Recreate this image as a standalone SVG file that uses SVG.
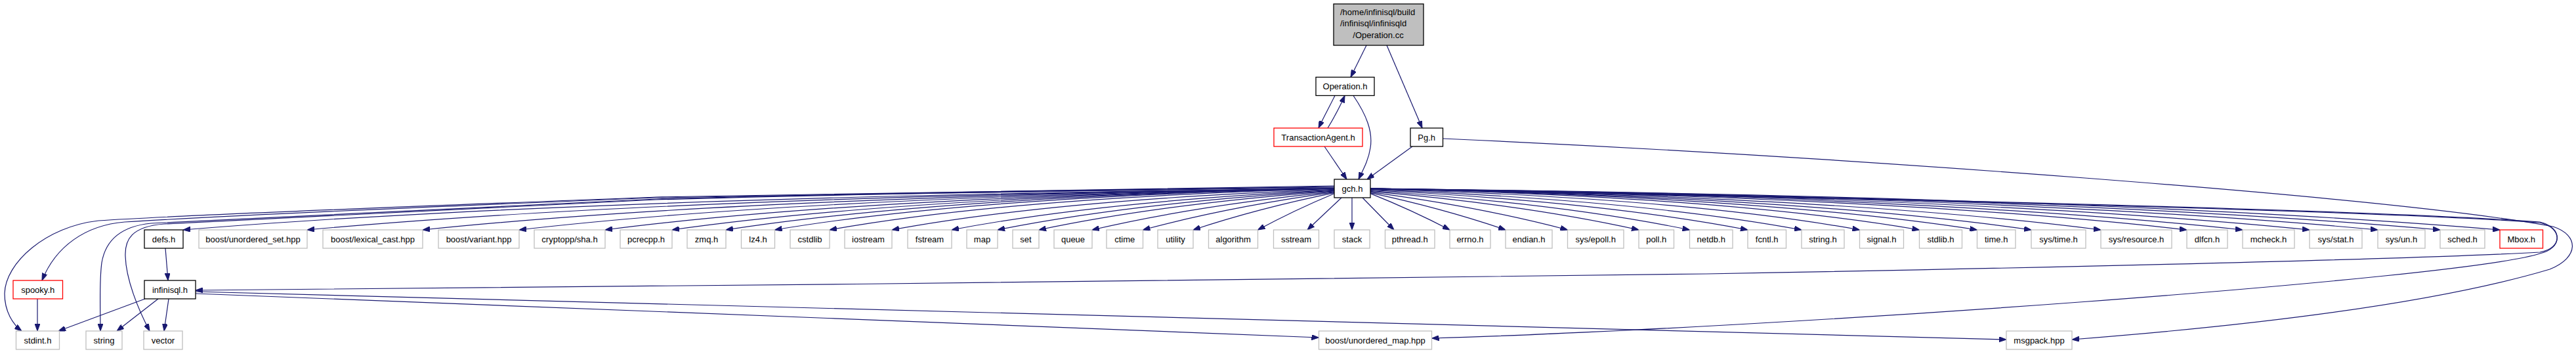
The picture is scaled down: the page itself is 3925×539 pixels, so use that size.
<svg xmlns="http://www.w3.org/2000/svg" width="3925" height="539" viewBox="0 0 3925 539">
<defs>
<style>
.node rect{fill:#ffffff;stroke:#bfbfbf;stroke-width:1.3}
.node.b rect{stroke:#000000}
.node.r rect{stroke:#ff0000}
.node.root rect{fill:#bfbfbf;stroke:#000000}
.node text{font-family:"Liberation Sans",Arial,sans-serif;font-size:13px;fill:#000000;text-anchor:middle}
.node text.l{text-anchor:start}
#edges path{fill:none;stroke:#191970;stroke-width:1.2;marker-end:url(#ah)}
</style>
<marker id="ah" viewBox="0 0 11 8" refX="11" refY="4" markerWidth="11" markerHeight="8" markerUnits="userSpaceOnUse" orient="auto">
<path d="M0,0L11,4L0,8z" fill="#191970" stroke="#191970" stroke-width="1"/>
</marker>
</defs>
<rect x="0" y="0" width="3925" height="539" fill="#ffffff"/>
<g id="edges">
<path d="M2082,69L2058,117.5"/>
<path d="M2113,69L2167,195"/>
<path d="M2034,145.5C2027,160 2017,178 2009,195"/>
<path d="M2023,195C2032,180 2042,162 2049,145.5"/>
<path d="M2062,145.5C2082,175 2092,200 2088,225C2085,245 2076,260 2070,273"/>
<path d="M2018,223L2052,273"/>
<path d="M2152,223L2083,273"/>
<path d="M2198,211C2800,238 3650,300 3890,345C3930,358 3930,392 3885,410C3700,465 3400,498 3157,517"/>
<path d="M2088,287C2700,298 3600,318 3870,338C3905,346 3905,378 3870,384C3650,396 3000,410 2600,417C2000,426 1000,436 298,442"/>
<path d="M2088,288C2700,299 3600,319 3870,339C3905,347 3905,378 3870,386C3750,425 2700,500 2181.5,515"/>
<path d="M298,444L3057,517"/>
<path d="M298,447C700,458 1500,497 2009.5,514"/>
<path d="M252,378L256,427"/>
<path d="M57,455L57,504"/>
<path d="M221,455L89,504"/>
<path d="M241,455L178,504"/>
<path d="M257,455L250,504"/>
<path d="M2033,283C1600,287 1200,294 1000,300C700,312 300,326 150,336C70,345 8,400 7,447C7,475 20,494 33,504"/>
<path d="M2033,284C1600,288 1200,295 1000,301C700,313 350,328 190,338C130,343 85,375 64,427"/>
<path d="M2033,285C1600,289 1200,297 1000,303C700,316 400,330 230,340C180,345 160,370 155,400C151,430 153,470 153,504"/>
<path d="M2033,286C1600,290 1200,298 1000,304C700,317 420,331 250,341C200,345 190,365 191,390C192,425 210,470 228,504"/>
<path d="M2033,287Q892.9,299.6 279,350"/>
<path d="M2033,287Q1015.8,299.6 468,350"/>
<path d="M2033,287Q1130.2,299.6 644,350"/>
<path d="M2033,287Q1225.7,299.6 791,350"/>
<path d="M2033,287Q1310.9,299.6 922,350"/>
<path d="M2033,287Q1377.2,299.6 1024,350"/>
<path d="M2033,287Q1430.5,299.6 1106,350"/>
<path d="M2033,287Q1478.9,299.6 1180.5,350"/>
<path d="M2033,287.4Q1537.8,300.7 1264,350"/>
<path d="M2033,288.4Q1611,303.6 1359,350"/>
<path d="M2033,289.4Q1678,306.4 1450,350"/>
<path d="M2033,290.2Q1727.3,308.6 1520,350"/>
<path d="M2033,290.9Q1770.1,310.5 1583,350"/>
<path d="M2033,291.9Q1823,312.9 1664,350"/>
<path d="M2033,292.7Q1871.3,315.1 1741.5,350"/>
<path d="M2033,293.6Q1916.9,317.2 1818,350"/>
<path d="M2033,294.7Q1972.2,319.9 1916.5,350"/>
<path d="M2044,301L1992,350"/>
<path d="M2060,301L2060,350"/>
<path d="M2076,301L2124,350"/>
<path d="M2088,294.6Q2151.3,319.8 2209,350"/>
<path d="M2088,293.7Q2199,317.5 2294,350"/>
<path d="M2088,292.6Q2255.1,314.8 2388.5,350"/>
<path d="M2088,291.4Q2324,311.7 2497,350"/>
<path d="M2088,290.5Q2375.5,309.4 2574.5,350"/>
<path d="M2088,289.5Q2437.6,306.7 2663,350"/>
<path d="M2088,288.6Q2497.3,304.2 2745,350"/>
<path d="M2088,287.6Q2565.1,301.3 2833.5,350"/>
<path d="M2088,287Q2631.7,299.6 2924.5,350"/>
<path d="M2088,287Q2688.9,299.6 3012.5,350"/>
<path d="M2088,287Q2742.5,299.6 3095,350"/>
<path d="M2088,287Q2811.4,299.6 3201,350"/>
<path d="M2088,287Q2896.6,299.6 3332,350"/>
<path d="M2088,287Q2951.8,299.6 3417,350"/>
<path d="M2088,287Q3018.1,299.6 3519,350"/>
<path d="M2088,287Q3085.7,299.6 3623,350"/>
<path d="M2088,287Q3147.5,299.6 3718,350"/>
<path d="M2088,287Q3206.6,299.6 3809,350"/>
</g>
<g id="node-root" class="node root"><rect x="2032" y="6" width="137" height="63"/><text class="l" x="2042" y="22.5">/home/infinisql/build</text><text class="l" x="2042" y="40">/infinisql/infinisqld</text><text x="2100" y="57.5">/Operation.cc</text></g>
<g id="node-operation-h" class="node b"><rect x="2005" y="117.5" width="89" height="28"/><text x="2049.5" y="136">Operation.h</text></g>
<g id="node-transactionagent-h" class="node r"><rect x="1941" y="195" width="135" height="28"/><text x="2008.5" y="213.5">TransactionAgent.h</text></g>
<g id="node-pg-h" class="node b"><rect x="2149" y="195" width="49.5" height="28"/><text x="2173.7" y="213.5">Pg.h</text></g>
<g id="node-gch-h" class="node b"><rect x="2033" y="273" width="55" height="28"/><text x="2060.5" y="291.5">gch.h</text></g>
<g id="node-defs-h" class="node b"><rect x="220" y="350" width="59" height="28"/><text x="249.5" y="368.5">defs.h</text></g>
<g id="node-boost-unordered-set" class="node"><rect x="303" y="350" width="165" height="28"/><text x="385.5" y="368.5">boost/unordered_set.hpp</text></g>
<g id="node-boost-lexical-cast" class="node"><rect x="492" y="350" width="152" height="28"/><text x="568" y="368.5">boost/lexical_cast.hpp</text></g>
<g id="node-boost-variant" class="node"><rect x="668" y="350" width="123" height="28"/><text x="729.5" y="368.5">boost/variant.hpp</text></g>
<g id="node-cryptopp-sha" class="node"><rect x="814" y="350" width="108" height="28"/><text x="868" y="368.5">cryptopp/sha.h</text></g>
<g id="node-pcrecpp" class="node"><rect x="945" y="350" width="79" height="28"/><text x="984.5" y="368.5">pcrecpp.h</text></g>
<g id="node-zmq" class="node"><rect x="1047" y="350" width="59" height="28"/><text x="1076.5" y="368.5">zmq.h</text></g>
<g id="node-lz4" class="node"><rect x="1129.5" y="350" width="51" height="28"/><text x="1155" y="368.5">lz4.h</text></g>
<g id="node-cstdlib" class="node"><rect x="1204" y="350" width="60" height="28"/><text x="1234" y="368.5">cstdlib</text></g>
<g id="node-iostream" class="node"><rect x="1287" y="350" width="72" height="28"/><text x="1323" y="368.5">iostream</text></g>
<g id="node-fstream" class="node"><rect x="1383" y="350" width="67" height="28"/><text x="1416.5" y="368.5">fstream</text></g>
<g id="node-map" class="node"><rect x="1473" y="350" width="47" height="28"/><text x="1496.5" y="368.5">map</text></g>
<g id="node-set" class="node"><rect x="1543" y="350" width="40" height="28"/><text x="1563" y="368.5">set</text></g>
<g id="node-queue" class="node"><rect x="1606" y="350" width="58" height="28"/><text x="1635" y="368.5">queue</text></g>
<g id="node-ctime" class="node"><rect x="1686" y="350" width="55.5" height="28"/><text x="1713.7" y="368.5">ctime</text></g>
<g id="node-utility" class="node"><rect x="1764" y="350" width="54" height="28"/><text x="1791" y="368.5">utility</text></g>
<g id="node-algorithm" class="node"><rect x="1841.5" y="350" width="75" height="28"/><text x="1879" y="368.5">algorithm</text></g>
<g id="node-sstream" class="node"><rect x="1940.5" y="350" width="69" height="28"/><text x="1975" y="368.5">sstream</text></g>
<g id="node-stack" class="node"><rect x="2033" y="350" width="54" height="28"/><text x="2060" y="368.5">stack</text></g>
<g id="node-pthread" class="node"><rect x="2110.5" y="350" width="75.5" height="28"/><text x="2148.2" y="368.5">pthread.h</text></g>
<g id="node-errno" class="node"><rect x="2209" y="350" width="62" height="28"/><text x="2240" y="368.5">errno.h</text></g>
<g id="node-endian" class="node"><rect x="2294" y="350" width="71" height="28"/><text x="2329.5" y="368.5">endian.h</text></g>
<g id="node-sys-epoll" class="node"><rect x="2388.5" y="350" width="85.5" height="28"/><text x="2431.2" y="368.5">sys/epoll.h</text></g>
<g id="node-poll" class="node"><rect x="2497" y="350" width="53.5" height="28"/><text x="2523.7" y="368.5">poll.h</text></g>
<g id="node-netdb" class="node"><rect x="2574.5" y="350" width="65.5" height="28"/><text x="2607.2" y="368.5">netdb.h</text></g>
<g id="node-fcntl" class="node"><rect x="2663" y="350" width="58.5" height="28"/><text x="2692.2" y="368.5">fcntl.h</text></g>
<g id="node-string-h" class="node"><rect x="2745" y="350" width="65" height="28"/><text x="2777.5" y="368.5">string.h</text></g>
<g id="node-signal" class="node"><rect x="2833.5" y="350" width="67" height="28"/><text x="2867" y="368.5">signal.h</text></g>
<g id="node-stdlib" class="node"><rect x="2924.5" y="350" width="65" height="28"/><text x="2957" y="368.5">stdlib.h</text></g>
<g id="node-time" class="node"><rect x="3012.5" y="350" width="58.5" height="28"/><text x="3041.7" y="368.5">time.h</text></g>
<g id="node-sys-time" class="node"><rect x="3095" y="350" width="83" height="28"/><text x="3136.5" y="368.5">sys/time.h</text></g>
<g id="node-sys-resource" class="node"><rect x="3201" y="350" width="108" height="28"/><text x="3255" y="368.5">sys/resource.h</text></g>
<g id="node-dlfcn" class="node"><rect x="3332" y="350" width="62" height="28"/><text x="3363" y="368.5">dlfcn.h</text></g>
<g id="node-mcheck" class="node"><rect x="3417" y="350" width="79" height="28"/><text x="3456.5" y="368.5">mcheck.h</text></g>
<g id="node-sys-stat" class="node"><rect x="3519" y="350" width="80" height="28"/><text x="3559" y="368.5">sys/stat.h</text></g>
<g id="node-sys-un" class="node"><rect x="3623" y="350" width="72" height="28"/><text x="3659" y="368.5">sys/un.h</text></g>
<g id="node-sched" class="node"><rect x="3718" y="350" width="68" height="28"/><text x="3752" y="368.5">sched.h</text></g>
<g id="node-mbox" class="node r"><rect x="3809" y="350" width="65.5" height="28"/><text x="3841.7" y="368.5">Mbox.h</text></g>
<g id="node-spooky" class="node r"><rect x="20" y="427" width="75.5" height="28"/><text x="57.7" y="445.5">spooky.h</text></g>
<g id="node-infinisql" class="node b"><rect x="220" y="427" width="78" height="28"/><text x="259" y="445.5">infinisql.h</text></g>
<g id="node-stdint" class="node"><rect x="24.5" y="504" width="66" height="28"/><text x="57.5" y="522.5">stdint.h</text></g>
<g id="node-string" class="node"><rect x="131" y="504" width="55" height="28"/><text x="158.5" y="522.5">string</text></g>
<g id="node-vector" class="node"><rect x="219" y="504" width="59" height="28"/><text x="248.5" y="522.5">vector</text></g>
<g id="node-boost-unordered-map" class="node"><rect x="2009.5" y="504" width="172" height="28"/><text x="2095.5" y="522.5">boost/unordered_map.hpp</text></g>
<g id="node-msgpack" class="node"><rect x="3057" y="504" width="100" height="28"/><text x="3107" y="522.5">msgpack.hpp</text></g>
</svg>
